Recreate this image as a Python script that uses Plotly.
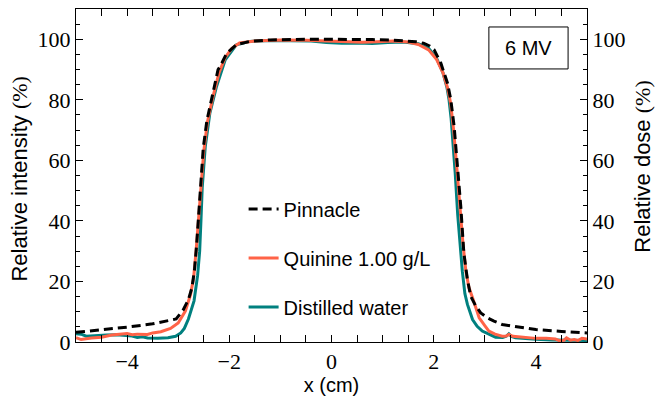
import plotly.graph_objects as go

# Lateral beam profiles, 6 MV
pinnacle_x = [-5.0, -4.5, -4.0, -3.5, -3.04, -2.9, -2.8, -2.73, -2.68, -2.64, -2.6, -2.57,
              -2.51, -2.44, -2.31, -2.22, -2.18, -2.05, -1.86, -1.6, -1.2, -0.8, -0.4, 0.0,
              0.4, 0.8, 1.2, 1.5, 1.65, 1.8, 1.92, 2.01, 2.14, 2.27, 2.335, 2.4, 2.46, 2.53,
              2.59, 2.66, 2.725, 2.82, 2.92, 3.05, 3.18, 3.34, 3.57, 4.0, 4.5, 5.0]
pinnacle_y = [3.2, 4.0, 4.9, 6.0, 7.6, 10.7, 14.0, 18.0, 24.0, 32.0, 42.0, 51.0,
              64.0, 73.0, 82.5, 90.0, 91.0, 95.4, 98.2, 99.3, 99.8, 100.0, 100.0, 100.0,
              100.0, 99.9, 99.7, 99.5, 99.2, 98.7, 97.8, 96.5, 92.1, 85.5, 80.0, 71.2, 60.2, 44.8,
              29.4, 20.6, 15.1, 12.0, 9.6, 8.0, 6.9, 5.8, 5.2, 4.1, 3.5, 3.0]

quinine_x = [-5.0, -4.9, -4.7, -4.5, -4.3, -4.1, -4.0, -3.9, -3.8, -3.6, -3.5, -3.34, -3.15,
             -3.0, -2.86, -2.76, -2.7, -2.65, -2.6, -2.56, -2.5, -2.43, -2.32, -2.2, -2.08,
             -1.95, -1.8, -1.5, -1.0, -0.5, 0.0, 0.3, 0.6, 0.9, 1.2, 1.5, 1.7, 1.9, 2.05,
             2.18, 2.27, 2.33, 2.39, 2.45, 2.51, 2.57, 2.63, 2.69, 2.76, 2.89, 3.0, 3.08,
             3.2, 3.34, 3.42, 3.47, 3.55, 3.7, 3.86, 4.0, 4.2, 4.38, 4.45, 4.55, 4.6, 4.68,
             4.75, 4.82, 4.9, 5.0]
quinine_y = [1.4, 0.8, 1.3, 1.6, 2.3, 2.6, 2.8, 2.4, 2.6, 2.5, 3.0, 3.4, 4.5,
             6.3, 10.2, 15.6, 21.0, 30.0, 41.0, 51.0, 63.0, 72.5, 81.0, 89.0, 94.0,
             97.0, 98.8, 99.4, 99.8, 99.7, 99.3, 99.2, 99.0, 99.2, 99.4, 99.1, 98.3, 96.5, 93.5,
             89.0, 84.0, 79.0, 70.0, 58.0, 45.0, 33.0, 23.4, 18.0, 14.6, 8.0, 5.4, 3.6,
             2.6, 1.9, 2.0, 2.5, 1.9, 1.6, 1.4, 1.2, 1.2, 1.0, 0.5, 0.6, 1.4, 0.6,
             0.8, 0.5, 1.2, 1.0]

water_x = [-5.0, -4.9, -4.8, -4.6, -4.4, -4.2, -4.0, -3.9, -3.8, -3.7, -3.6, -3.4, -3.2,
           -3.05, -2.95, -2.88, -2.8, -2.69, -2.62, -2.58, -2.555, -2.53, -2.47, -2.38,
           -2.25, -2.08, -1.86, -1.6, -1.2, -0.8, -0.4, -0.1, 0.2, 0.5, 0.8, 1.1, 1.4,
           1.7, 1.9, 2.05, 2.18, 2.26, 2.3, 2.34, 2.38, 2.42, 2.47, 2.52, 2.56, 2.61,
           2.66, 2.76, 2.85, 2.95, 3.1, 3.21, 3.35, 3.42, 3.47, 3.52, 3.6, 3.8, 4.0,
           4.3, 4.6, 5.0]
water_y = [2.7, 2.6, 1.9, 2.2, 2.3, 2.4, 2.2, 2.0, 1.5, 1.7, 1.3, 1.2, 1.4,
           1.9, 3.0, 4.5, 7.6, 13.6, 22.0, 30.0, 40.0, 51.0, 64.6, 75.6,
           84.4, 93.2, 98.2, 99.3, 99.6, 99.6, 99.4, 98.9, 98.7, 98.8, 98.6, 98.9, 99.1,
           98.5, 97.0, 94.0, 89.0, 84.0, 80.0, 74.0, 66.0, 56.0, 42.0, 30.0, 23.4, 16.0,
           12.4, 7.4, 5.2, 3.6, 2.3, 1.6, 1.5, 1.9, 2.7, 1.8, 1.4, 1.1, 0.9,
           0.7, 0.6, 0.5]

x_ticks = [-4, -2, 0, 2, 4]
y_ticks = [0, 20, 40, 60, 80, 100]

SANS = "Liberation Sans"
SERIF = "Liberation Serif"

fig = go.Figure()
fig.add_trace(go.Scatter(x=water_x, y=water_y, mode="lines", name="Distilled water",
                         line=dict(color="#00807f", width=3), legendgroup="c", legendrank=3))
fig.add_trace(go.Scatter(x=quinine_x, y=quinine_y, mode="lines", name="Quinine 1.00 g/L",
                         line=dict(color="#ff6347", width=3), legendgroup="b", legendrank=2))
# Planning-system profile on the right-hand (dose) axis, which shares the same scale
fig.add_trace(go.Scatter(x=pinnacle_x, y=pinnacle_y, mode="lines", name="Pinnacle",
                         yaxis="y2",
                         line=dict(color="black", width=3, dash="9px,5px"),
                         legendgroup="a", legendrank=1))

tickfont = dict(family=SERIF, size=22, color="black")
axis_common = dict(showline=True, linecolor="black", linewidth=1, showgrid=False,
                   zeroline=False, ticks="inside", tickcolor="black", tickfont=tickfont)
minor_y = dict(dtick=5, tick0=0, ticklen=4, ticks="inside", tickcolor="black")

fig.update_layout(
    width=656, height=410,
    margin=dict(l=76, r=69, t=9, b=68),
    plot_bgcolor="white", paper_bgcolor="white",
    font=dict(family=SANS, size=20, color="black"),
    xaxis=dict(range=[-5, 5], tickvals=x_ticks, ticklen=7, mirror="allticks",
               minor=dict(dtick=0.5, tick0=0, ticklen=4, ticks="inside", tickcolor="black"),
               title=dict(text="x (cm)", font=dict(family=SANS, size=20), standoff=0),
               **axis_common),
    yaxis=dict(range=[0, 110], tickvals=y_ticks, ticklen=7, mirror="allticks",
               minor=minor_y, **axis_common),
    yaxis2=dict(range=[0, 110], tickvals=y_ticks, ticklen=7, overlaying="y", side="right",
                minor=minor_y, **axis_common),
    legend=dict(x=0.328, y=0.458, xanchor="left", yanchor="top", bgcolor="rgba(0,0,0,0)",
                font=dict(family=SANS, size=20), tracegroupgap=20, itemwidth=30),
    showlegend=True,
)

# Vertical axis titles (sans text with a serif percent unit)
title_font = dict(family=SANS, size=22, color="black")
fig.add_annotation(xref="paper", yref="paper", x=-0.1115, y=0.488, textangle=-90,
                   xanchor="center", yanchor="middle", showarrow=False, font=title_font,
                   text=f'Relative intensity <span style="font-family:{SERIF}">(%)</span>')
fig.add_annotation(xref="paper", yref="paper", x=1.108, y=0.527, textangle=-90,
                   xanchor="center", yanchor="middle", showarrow=False, font=title_font,
                   text=f'Relative dose <span style="font-family:{SERIF}">(%)</span>')

# Beam energy label in a framed box
fig.add_shape(type="rect", xref="paper", yref="paper", x0=0.808, x1=0.963, y0=0.820, y1=0.946,
              line=dict(color="black", width=1), fillcolor="white")
fig.add_annotation(xref="paper", yref="paper", x=(0.808 + 0.963) / 2, y=(0.820 + 0.946) / 2,
                   xanchor="center", yanchor="middle",
                   text="6 MV", showarrow=False, font=dict(family=SANS, size=20))

fig.write_html("out.html")
